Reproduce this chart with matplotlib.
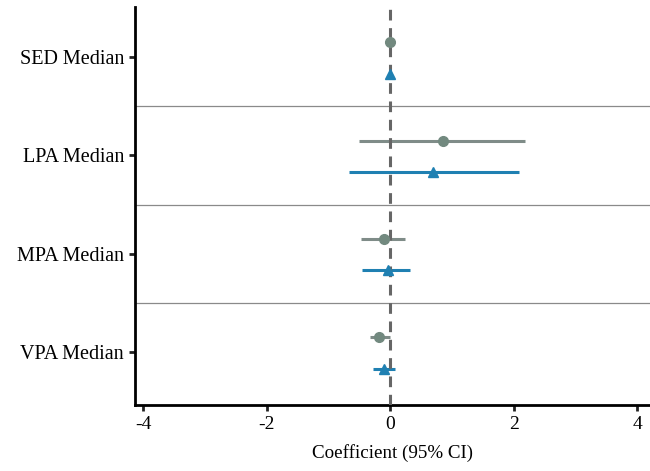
import matplotlib.pyplot as plt
import numpy as np

plt.rcParams['font.family'] = ['Liberation Serif', 'DejaVu Serif']

labels = ['SED Median', 'LPA Median', 'MPA Median', 'VPA Median']

# series 1 (circles)
est1 = [0.00, 0.85, -0.10, -0.18]
lo1 = [-0.02, -0.50, -0.47, -0.32]
hi1 = [0.02, 2.19, 0.24, 0.00]

# series 2 (triangles)
est2 = [0.00, 0.70, -0.03, -0.10]
lo2 = [-0.02, -0.66, -0.45, -0.27]
hi2 = [0.02, 2.09, 0.32, 0.08]

col1 = '#72897f'
line1 = '#7f8c88'
col2 = '#1f80b2'

fig = plt.figure(figsize=(6.5, 4.71), dpi=100)
ax = fig.add_axes([0.208, 0.14, 0.792, 0.845])

ypos = np.arange(len(labels), 0, -1)
y1 = ypos + 0.15
y2 = ypos - 0.17

ax.hlines(y1, lo1, hi1, color=line1, lw=2.2, zorder=2)
ax.hlines(y2, lo2, hi2, color=col2, lw=2.2, zorder=2)
ax.axvline(0, color='#666666', lw=2.2, ls=(0, (3.5, 2.5)), zorder=3)
ax.plot(est1, y1, 'o', color=col1, ms=7, zorder=4)
ax.plot(est2, y2, '^', color=col2, ms=7, zorder=4)

for y in [3.5, 2.5, 1.5]:
    ax.axhline(y, color='#8a8a8a', lw=0.9, zorder=1)

ax.set_xlim(-4.13, 4.21)
ax.set_ylim(0.46, 4.51)
ax.set_yticks(ypos)
ax.set_yticklabels(labels, fontsize=14.5)
ax.set_xticks([-4, -2, 0, 2, 4])
ax.set_xticklabels(['-4', '-2', '0', '2', '4'], fontsize=14)
ax.set_xlabel('Coefficient (95% CI)', fontsize=13.7, labelpad=8)

ax.spines['top'].set_visible(False)
ax.spines['right'].set_visible(False)
ax.spines['left'].set_linewidth(2)
ax.spines['bottom'].set_linewidth(2)
ax.tick_params(axis='both', length=4, width=2, color='#222222', pad=4)

plt.savefig('out.png', dpi=100)
